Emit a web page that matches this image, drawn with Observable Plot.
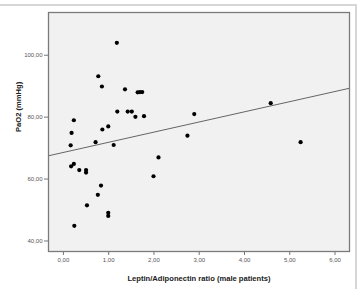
<!DOCTYPE html>
<html>
<head>
<meta charset="utf-8">
<script src="https://cdn.jsdelivr.net/npm/d3@7"></script>
<script src="https://cdn.jsdelivr.net/npm/@observablehq/plot@0.6"></script>
<style>
  html, body { margin: 0; padding: 0; background: #fff; }
  #wrap { position: relative; width: 360px; height: 298px; overflow: hidden; }
  #outer { position: absolute; left: 0; top: 4px; width: 355px; height: 283px;
           border-top: 2px solid #d6d6d6; border-right: 2px solid #d6d6d6; }
  #chart { position: absolute; left: 0; top: 0; }
</style>
</head>
<body>
<div id="wrap"><div id="outer"></div><div id="chart"></div></div>
<script>
// Leptin/Adiponectin ratio (male patients)
const ratio = [1.18, 0.77, 0.85, 1.36, 1.64, 1.69, 1.74, 1.19, 1.42, 1.51, 1.59, 1.78,
  0.23, 0.18, 0.16, 0.86, 0.99, 0.71, 1.11, 4.58, 2.89, 2.74, 5.24, 2.10, 1.99,
  0.17, 0.23, 0.35, 0.50, 0.50, 0.83, 0.76, 0.52, 0.99, 0.99, 0.24];
// PaO2 (mmHg)
const pao2 = [104.0, 93.2, 89.9, 89.0, 88.0, 88.1, 88.1, 81.8, 81.8, 81.8, 80.1, 80.3,
  79.0, 74.9, 70.9, 76.0, 77.0, 71.9, 71.0, 84.5, 81.0, 74.0, 71.9, 67.0, 60.9,
  64.1, 64.9, 62.9, 62.9, 62.1, 57.9, 54.9, 51.5, 49.1, 48.1, 44.9];
// Fit line coefficients (as drawn)
const fitIntercept = 68.6;
const fitSlope = 3.28;
const xTicks = [0, 1, 2, 3, 4, 5, 6];
const yTicks = [40, 60, 80, 100];
const xDomain = [-0.33, 6.32];
const yDomain = [36.6, 113.8];

const pts = ratio.map((r, i) => ({r, p: pao2[i]}));
const fit = xDomain.map(x => ({r: x, p: fitIntercept + fitSlope * x}));
const fmt = v => d3.format(".2f")(v).replace(".", ",");

const chart = Plot.plot({
  width: 360,
  height: 298,
  marginLeft: 48,
  marginRight: 11,
  marginTop: 12,
  marginBottom: 47,
  style: {background: "transparent", fontFamily: "Liberation Sans, Arial, sans-serif"},
  x: {domain: xDomain, ticks: xTicks, tickFormat: fmt, label: null},
  y: {domain: yDomain, ticks: yTicks, tickFormat: fmt, label: null},
  marks: [
    Plot.frame({fill: "#f1f1f1", stroke: "none"}),
    Plot.line(fit, {x: "r", y: "p", stroke: "#555", strokeWidth: 0.9}),
    Plot.dot(pts, {x: "r", y: "p", r: 2.1, fill: "#000", stroke: "none"}),
    Plot.frame({stroke: "#7a7a7a", strokeWidth: 1.3}),
    Plot.axisX({ticks: xTicks, tickFormat: fmt, tickSize: 4, tickPadding: 2, fontSize: 6, color: "#555", stroke: "#777", label: null}),
    Plot.axisY({ticks: yTicks, tickFormat: fmt, tickSize: 4, tickPadding: 2, fontSize: 6, color: "#555", stroke: "#777", label: null}),
    Plot.text(["Leptin/Adiponectin ratio (male patients)"], {frameAnchor: "bottom", dy: 29, fontWeight: "bold", fontSize: 7.6, fill: "#222"}),
    Plot.text(["PaO2 (mmHg)"], {frameAnchor: "left", dx: -30, rotate: -90, fontWeight: "bold", fontSize: 7.6, fill: "#222"})
  ]
});
document.getElementById("chart").appendChild(chart);
</script>
</body>
</html>
